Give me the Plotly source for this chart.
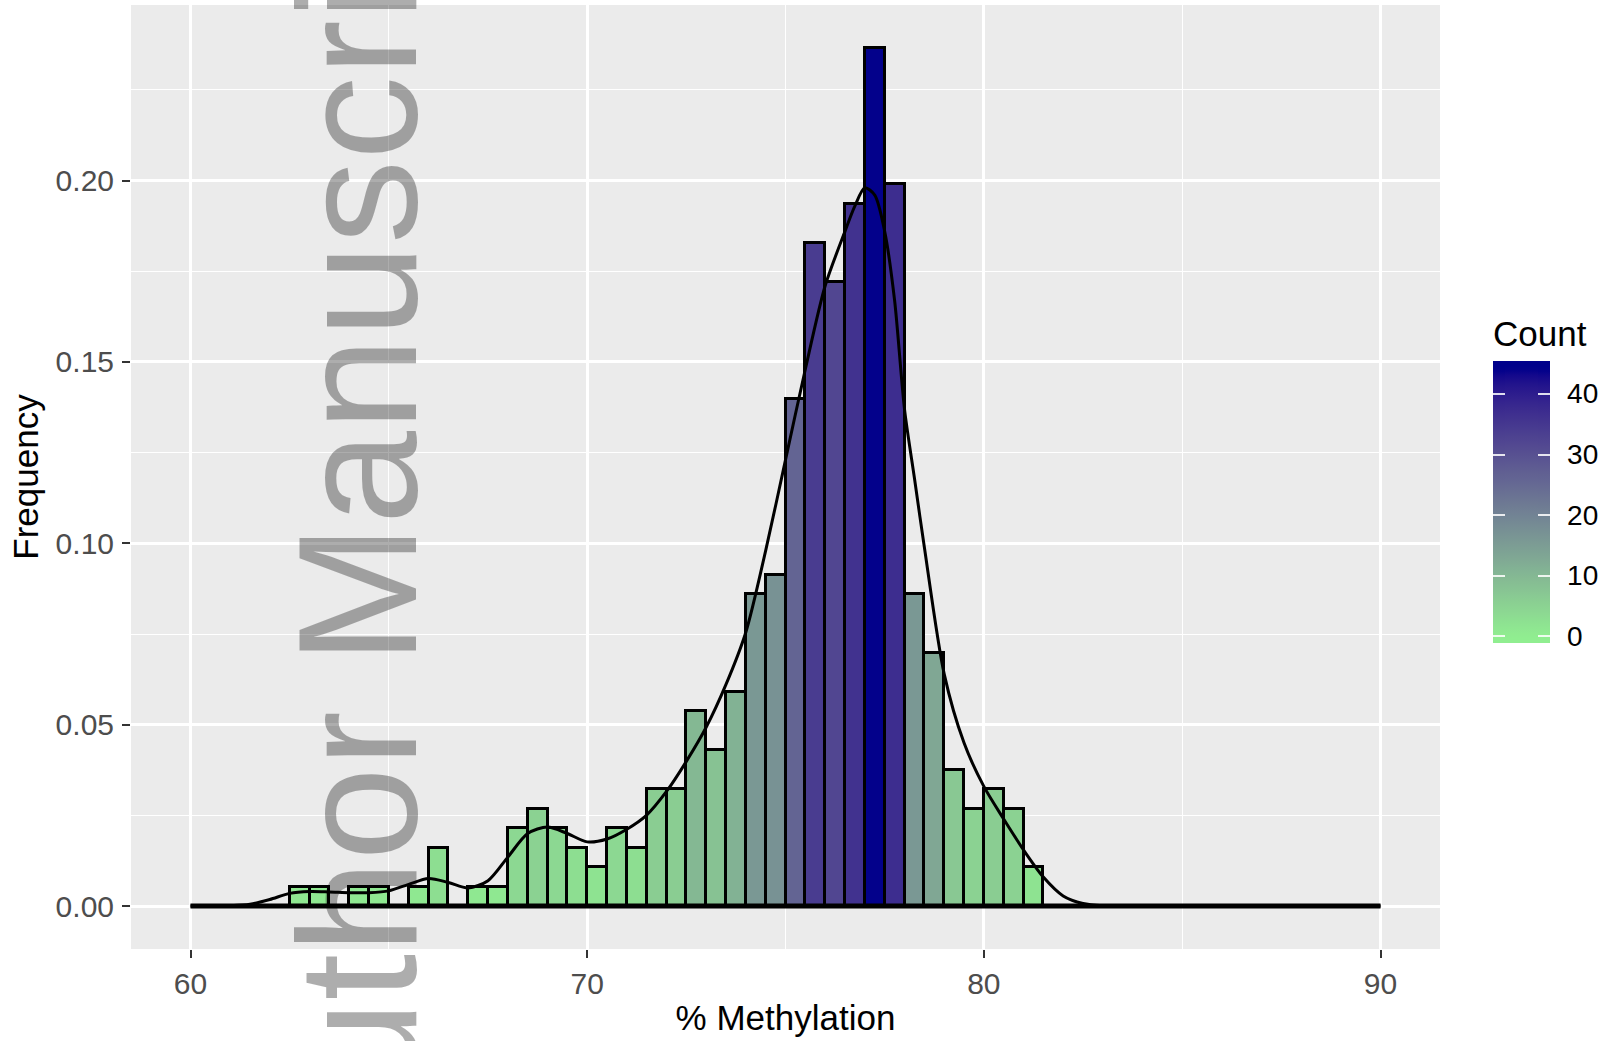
import plotly.graph_objects as go

# ---------------- data ----------------
bin_start = [62.5, 63.0, 63.5, 64.0, 64.5, 65.0, 65.5, 66.0, 66.5, 67.0, 67.5, 68.0, 68.5,
             69.0, 69.5, 70.0, 70.5, 71.0, 71.5, 72.0, 72.5, 73.0, 73.5, 74.0, 74.5, 75.0,
             75.5, 76.0, 76.5, 77.0, 77.5, 78.0, 78.5, 79.0, 79.5, 80.0, 80.5, 81.0]
counts = [1, 1, 0, 1, 1, 0, 1, 3, 0, 1, 1, 4, 5,
          4, 3, 2, 4, 3, 6, 6, 10, 8, 11, 16, 17, 26,
          34, 32, 36, 44, 37, 16, 13, 7, 5, 6, 5, 2]
bin_width = 0.5

dens_x = [60, 60.5, 61, 61.5, 62, 62.5, 63, 63.5, 64, 64.5, 65, 65.5, 66, 66.5, 67, 67.5,
          68, 68.5, 69, 69.5, 70, 70.5, 71, 71.5, 72, 72.5, 73, 73.5, 74, 74.5, 75, 75.5,
          76, 76.5, 76.75, 77, 77.25, 77.5, 77.75, 78, 78.25, 78.5, 79, 79.5, 80, 80.5,
          81, 81.5, 82, 82.5, 83, 84, 85, 86, 87, 88, 89, 90]
dens_y = [0, 0, 0.0001, 0.0005, 0.0018, 0.0035, 0.0040, 0.0039, 0.0037, 0.0037, 0.0042,
          0.0060, 0.0076, 0.0065, 0.0050, 0.0070, 0.0135, 0.0200, 0.0218, 0.0200, 0.0177,
          0.0185, 0.0212, 0.0251, 0.0316, 0.0399, 0.0493, 0.0611, 0.0755, 0.0980, 0.1230,
          0.1480, 0.1710, 0.1860, 0.1930, 0.1980, 0.1960, 0.1860, 0.1670, 0.1370, 0.1180,
          0.0990, 0.0640, 0.0450, 0.0330, 0.0240, 0.0155, 0.0080, 0.0028, 0.0007, 0.0001,
          0, 0, 0, 0, 0, 0, 0]

x_ticks = [60, 70, 80, 90]
y_ticks = [0.0, 0.05, 0.10, 0.15, 0.20]
y_ticktext = ["0.00", "0.05", "0.10", "0.15", "0.20"]
cb_ticks = [0, 10, 20, 30, 40]

total = sum(counts)
freq = [c / (total * bin_width) for c in counts]

# ---------------- colour helpers (CIELAB gradient like ggplot) ----------------
def _lin(c):
    c = c / 255.0
    return c / 12.92 if c <= 0.04045 else ((c + 0.055) / 1.055) ** 2.4

def _gam(c):
    c = 12.92 * c if c <= 0.0031308 else 1.055 * c ** (1 / 2.4) - 0.055
    return max(0, min(255, round(c * 255)))

def _f(t):
    d = 6 / 29
    return t ** (1 / 3) if t > d ** 3 else t / (3 * d * d) + 4 / 29

def _finv(t):
    d = 6 / 29
    return t ** 3 if t > d else 3 * d * d * (t - 4 / 29)

WN = (0.95047, 1.0, 1.08883)

def hex_to_lab(h):
    r, g, b = (_lin(int(h[i:i + 2], 16)) for i in (1, 3, 5))
    X = 0.4124 * r + 0.3576 * g + 0.1805 * b
    Y = 0.2126 * r + 0.7152 * g + 0.0722 * b
    Z = 0.0193 * r + 0.1192 * g + 0.9505 * b
    fx, fy, fz = _f(X / WN[0]), _f(Y / WN[1]), _f(Z / WN[2])
    return (116 * fy - 16, 500 * (fx - fy), 200 * (fy - fz))

def lab_to_rgb(L, a, b):
    fy = (L + 16) / 116
    fx = fy + a / 500
    fz = fy - b / 200
    X, Y, Z = WN[0] * _finv(fx), WN[1] * _finv(fy), WN[2] * _finv(fz)
    r = 3.2406 * X - 1.5372 * Y - 0.4986 * Z
    g = -0.9689 * X + 1.8758 * Y + 0.0415 * Z
    bb = 0.0557 * X - 0.2040 * Y + 1.0570 * Z
    r, g, bb = (max(0.0, min(1.0, v)) for v in (r, g, bb))
    return "rgb(%d,%d,%d)" % (_gam(r), _gam(g), _gam(bb))

LOW = hex_to_lab("#90EE90")   # lightgreen
HIGH = hex_to_lab("#00008B")  # darkblue

def ramp(t):
    t = max(0.0, min(1.0, t))
    return lab_to_rgb(*(lo + (hi - lo) * t for lo, hi in zip(LOW, HIGH)))

cmax_data = max(counts)
cb_lo, cb_hi = -1.09, 45.3
colorscale = []
N = 60
for k in range(N + 1):
    s = k / N
    v = cb_lo + s * (cb_hi - cb_lo)
    colorscale.append([s, ramp(v / cmax_data)])

# ---------------- geometry ----------------
W, H = 1610, 1041
ML, MR, MT, MB = 131, 170, 5, 92
PW, PH = W - ML - MR, H - MT - MB
FONT = "Liberation Sans, Arial, Helvetica, sans-serif"

cb_x_px, cb_thick = 1493, 57
cb_top_px, cb_bot_px = 362, 643
cb_bar_len = cb_bot_px - cb_top_px
cb_title_h = 45
cb_x = (cb_x_px - ML) / PW
cb_y0 = (MT + PH - cb_bot_px) / PH
TICK_LEN = 12
TICK_COL = "rgba(255,255,255,0.85)"

fig = go.Figure()

fig.add_trace(go.Bar(
    x=bin_start, y=freq, width=bin_width, offset=0,
    marker=dict(
        color=counts, colorscale=colorscale, cmin=cb_lo, cmax=cb_hi,
        line=dict(color="black", width=3),
        colorbar=dict(
            title=dict(text="Count", side="top", font=dict(size=35, color="black", family=FONT)),
            thickness=cb_thick, len=cb_bar_len + cb_title_h, lenmode="pixels",
            x=cb_x, xanchor="left", xref="paper", y=cb_y0, yanchor="bottom",
            xpad=0, ypad=0, outlinewidth=0,
            tickvals=cb_ticks, ticks="outside", ticklen=TICK_LEN, tickwidth=1,
            tickcolor="rgba(0,0,0,0)",
            tickfont=dict(size=28, color="black", family=FONT),
        ),
    ),
    hoverinfo="skip", showlegend=False,
))

# thin overlay colour bars on both edges of the legend bar: they carry the white tick marks
for x_off in (0, cb_thick - TICK_LEN):
    fig.add_trace(go.Scatter(
        x=[None], y=[None], mode="markers",
        marker=dict(
            color=[0], colorscale=colorscale, cmin=cb_lo, cmax=cb_hi, showscale=True,
            colorbar=dict(
                thickness=TICK_LEN, len=cb_bar_len, lenmode="pixels",
                x=cb_x + x_off / PW, xanchor="left", xref="paper", y=cb_y0, yanchor="bottom",
                xpad=0, ypad=0, outlinewidth=0,
                tickvals=cb_ticks, ticks="inside", ticklen=TICK_LEN, tickwidth=1.5,
                tickcolor=TICK_COL, showticklabels=False,
            ),
        ),
        hoverinfo="skip", showlegend=False,
    ))

fig.add_trace(go.Scatter(
    x=[dens_x[0], dens_x[-1]], y=[0, 0], mode="lines",
    line=dict(color="black", width=5), hoverinfo="skip", showlegend=False,
))
fig.add_trace(go.Scatter(
    x=dens_x, y=dens_y, mode="lines",
    line=dict(color="black", width=3, shape="spline", smoothing=0.8),
    hoverinfo="skip", showlegend=False,
))

ymin, ymax = -0.01183, 0.2484
fig.update_layout(
    width=W, height=H,
    margin=dict(l=ML, r=MR, t=MT, b=MB, autoexpand=False),
    paper_bgcolor="white", plot_bgcolor="#EBEBEB",
    font=dict(family=FONT),
    bargap=0,
    xaxis=dict(
        range=[58.5, 91.5], tickvals=x_ticks, ticktext=[str(t) for t in x_ticks],
        showgrid=True, gridcolor="white", gridwidth=2.7, zeroline=False,
        minor=dict(dtick=5, tick0=60, showgrid=True, gridcolor="white", gridwidth=1.4, ticks=""),
        ticks="outside", ticklen=8, tickwidth=2.2, tickcolor="#333333",
        tickfont=dict(size=30, color="#4D4D4D", family=FONT),
        title=dict(text="% Methylation", font=dict(size=35, color="black", family=FONT), standoff=6),
        showline=False,
    ),
    yaxis=dict(
        range=[ymin, ymax], tickvals=y_ticks, ticktext=y_ticktext,
        showgrid=True, gridcolor="white", gridwidth=2.7, zeroline=False,
        minor=dict(dtick=0.025, tick0=0, showgrid=True, gridcolor="white", gridwidth=1.4, ticks=""),
        ticks="outside", ticklen=8, tickwidth=2.2, tickcolor="#333333",
        tickfont=dict(size=30, color="#4D4D4D", family=FONT),
        ticklabelstandoff=2,
        title=dict(text="Frequency", font=dict(size=35, color="black", family=FONT), standoff=6),
        showline=False,
    ),
    annotations=[dict(
        text="Author Manuscript", textangle=-90, showarrow=False,
        xref="paper", yref="paper",
        x=(358 - ML) / PW, y=(MT + PH - 525) / PH,
        xanchor="center", yanchor="middle",
        font=dict(size=168, color="rgba(0,0,0,0.32)", family=FONT),
    )],
)

fig.write_html("out.html", config={"displayModeBar": False},
               post_script="document.body.style.margin='0';")
